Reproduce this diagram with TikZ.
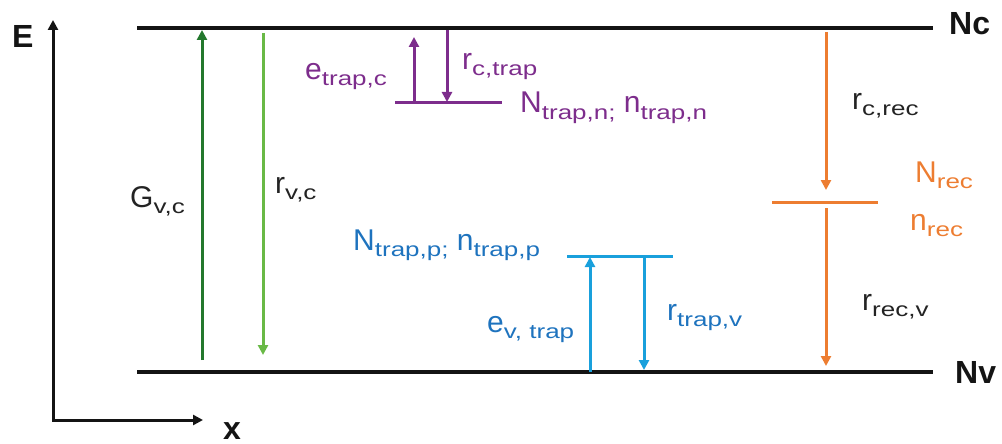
\documentclass[tikz,border=0pt]{standalone}
\usepackage{fontspec}
\setmainfont{Liberation Sans}
\usepackage{graphicx}
\usetikzlibrary{arrows.meta}
\definecolor{lvlblack}{RGB}{20,20,20}
\definecolor{dkgreen}{RGB}{35,120,45}
\definecolor{ltgreen}{RGB}{105,185,70}
\definecolor{trappurple}{RGB}{125,45,140}
\definecolor{trapblue}{RGB}{25,160,220}
\definecolor{trapbluetext}{RGB}{30,115,190}
\definecolor{recorange}{RGB}{237,125,49}
\definecolor{labgray}{RGB}{35,35,35}
\newcommand{\lbl}[2]{#1\raisebox{-6pt}{\fontsize{20}{20}\selectfont\scalebox{1.3}[1]{#2}}}
\tikzset{
  level/.style={line width=3.5pt, lvlblack},
  axisline/.style={line width=3pt, lvlblack, {Triangle[width=10pt,length=10pt]}-{Triangle[width=10pt,length=10pt]}},
  trans/.style={line width=3pt, -{Triangle[width=10pt,length=10pt]}},
  sublevel/.style={line width=3pt},
  lab/.style={anchor=base west, inner sep=0pt, font=\fontsize{30}{30}\selectfont},
  biglab/.style={anchor=base west, inner sep=0pt, font=\fontsize{32}{32}\selectfont\bfseries, lvlblack}
}
\begin{document}
\begin{tikzpicture}[x=1pt,y=-1pt]
\useasboundingbox (0,0) rectangle (1002,444);
% axes
\coordinate (axtop) at (53,20);
\coordinate (corner) at (53,420);
\coordinate (axright) at (203,420);
\draw[axisline] (axtop) -- (corner) -- (axright);
\node[biglab] (E) at (12,48) {E};
\node[biglab] (X) at (223,439) {x};
% band levels
\coordinate (ncL) at (137,28); \coordinate (ncR) at (933,28);
\coordinate (nvL) at (137,372); \coordinate (nvR) at (933,372);
\draw[level] (ncL) -- (ncR);
\draw[level] (nvL) -- (nvR);
\node[biglab] (Nc) at (949,35) {Nc};
\node[biglab] (Nv) at (955,383) {Nv};
% band-to-band
\coordinate (g0) at (202,360); \coordinate (g1) at (202,30);
\draw[trans, dkgreen] (g0) -- (g1);
\coordinate (rv0) at (263,33); \coordinate (rv1) at (263,355);
\draw[trans, ltgreen] (rv0) -- (rv1);
\node[lab, labgray] (Gvc) at (130,207) {\lbl{G}{v,c}};
\node[lab, labgray] (rvc) at (275,193) {\lbl{r}{v,c}};
% electron trap (purple)
\coordinate (tnL) at (395,103); \coordinate (tnR) at (502,103);
\draw[sublevel, trappurple] (tnL) -- (tnR);
\coordinate (etc0) at (414,103); \coordinate (etc1) at (414,37);
\draw[trans, trappurple] (etc0) -- (etc1);
\coordinate (rct0) at (447,30); \coordinate (rct1) at (447,102);
\draw[trans, trappurple] (rct0) -- (rct1);
\node[lab, trappurple] (etrapc) at (305,80) {\lbl{e}{trap,c}};
\node[lab, trappurple] (rctrap) at (462,70) {\lbl{r}{c,trap}};
\node[lab, trappurple] (Ntrapn) at (520,113) {\lbl{N}{trap,n;} \lbl{n}{trap,n}};
% hole trap (blue)
\coordinate (tpL) at (567,256); \coordinate (tpR) at (673,256);
\draw[sublevel, trapblue] (tpL) -- (tpR);
\coordinate (evt0) at (590,372); \coordinate (evt1) at (590,257);
\draw[trans, trapblue] (evt0) -- (evt1);
\coordinate (rtv0) at (644,256); \coordinate (rtv1) at (644,370);
\draw[trans, trapblue] (rtv0) -- (rtv1);
\node[lab, trapbluetext] (Ntrapp) at (353,250) {\lbl{N}{trap,p;} \lbl{n}{trap,p}};
\node[lab, trapbluetext] (evtrap) at (487,332) {\lbl{e}{v, trap}};
\node[lab, trapbluetext] (rtrapv) at (667,320) {\lbl{r}{trap,v}};
% recombination centre (orange)
\coordinate (rcL) at (772,202); \coordinate (rcR) at (878,202);
\draw[sublevel, recorange] (rcL) -- (rcR);
\coordinate (rcr0) at (826,32); \coordinate (rcr1) at (826,190);
\draw[trans, recorange] (rcr0) -- (rcr1);
\coordinate (rrv0) at (826,208); \coordinate (rrv1) at (826,366);
\draw[trans, recorange] (rrv0) -- (rrv1);
\node[lab, labgray] (rcrec) at (852,110) {\lbl{r}{c,rec}};
\node[lab, recorange] (Nrec) at (915,182) {\lbl{N}{rec}};
\node[lab, recorange] (nrec) at (910,230) {\lbl{n}{rec}};
\node[lab, labgray] (rrecv) at (862,310) {\lbl{r}{rec,v}};
\end{tikzpicture}
\end{document}
